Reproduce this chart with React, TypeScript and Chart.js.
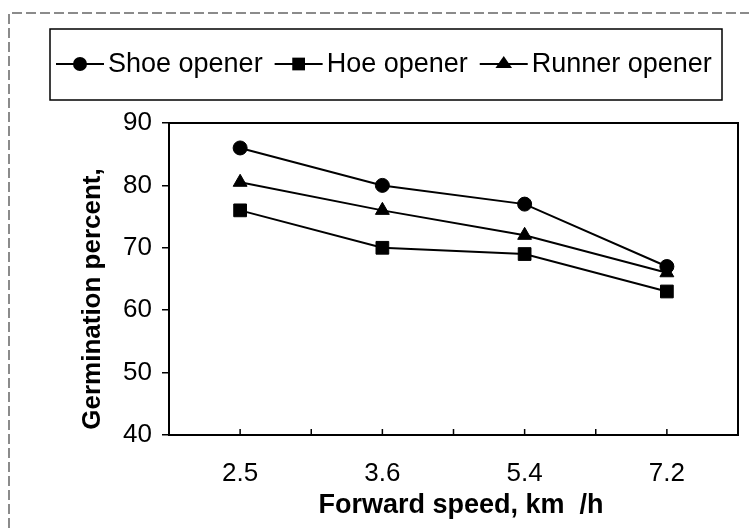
import React, { useEffect, useRef } from "react";
import { Chart, registerables } from "chart.js";

Chart.register(...registerables);

const categories = ["2.5", "3.6", "5.4", "7.2"];
const shoeOpener = [86, 80, 77, 67];
const hoeOpener = [76, 70, 69, 63];
const runnerOpener = [80.5, 76, 72, 66];
const seriesLabels = ["Shoe opener", "Hoe opener", "Runner opener"];
const pointStyles = ["circle", "rect", "triangle"];
const pointRadii = [7, 9, 8];
const yTitle = "Germination percent,";
const xTitle = "Forward speed, km  /h";

const FONT = "Arial, 'Liberation Sans', sans-serif";

function drawMarker(ctx: CanvasRenderingContext2D, style: string, r: number, x: number, y: number) {
  ctx.beginPath();
  if (style === "circle") {
    ctx.arc(x, y, r, 0, Math.PI * 2);
  } else if (style === "rect") {
    const s = r / Math.SQRT2;
    ctx.rect(x - s, y - s, 2 * s, 2 * s);
  } else {
    const h = r * 1.5;
    ctx.moveTo(x, y - h * 0.66);
    ctx.lineTo(x + r * 0.866 * 1.2, y + h * 0.34);
    ctx.lineTo(x - r * 0.866 * 1.2, y + h * 0.34);
    ctx.closePath();
  }
  ctx.fillStyle = "#000";
  ctx.fill();
}

const framePlugin = {
  id: "frame",
  beforeDraw(chart: any) {
    const { ctx, width, height } = chart;
    ctx.save();
    ctx.fillStyle = "#fff";
    ctx.fillRect(0, 0, width, height);
    ctx.strokeStyle = "#666";
    ctx.lineWidth = 1.5;
    ctx.setLineDash([10, 4]);
    ctx.beginPath();
    ctx.moveTo(9, height);
    ctx.lineTo(9, 13);
    ctx.lineTo(width, 13);
    ctx.stroke();
    ctx.restore();
  },
  beforeDatasetsDraw(chart: any) {
    const { ctx, chartArea: a } = chart;
    ctx.save();
    ctx.strokeStyle = "#000";
    ctx.lineWidth = 2;
    ctx.strokeRect(a.left, a.top, a.right - a.left, a.bottom - a.top);
    const xs = chart.scales.x;
    ctx.lineWidth = 1.5;
    ctx.beginPath();
    for (let i = 0; i < categories.length; i++) {
      for (const v of [i - 0.5, i]) {
        const px = xs.getPixelForValue(v);
        ctx.moveTo(px, a.bottom);
        ctx.lineTo(px, a.bottom - 6);
      }
    }
    ctx.stroke();
    ctx.restore();
  },
  afterDraw(chart: any) {
    const { ctx } = chart;
    ctx.save();
    // axis titles
    ctx.fillStyle = "#000";
    ctx.textAlign = "center";
    ctx.textBaseline = "middle";
    ctx.font = `bold 27px ${FONT}`;
    ctx.fillText(xTitle, 461, 506);
    ctx.save();
    ctx.translate(93, 299);
    ctx.rotate(-Math.PI / 2);
    ctx.font = `bold 26px ${FONT}`;
    ctx.fillText(yTitle, 0, 0);
    ctx.restore();

    // legend
    ctx.strokeStyle = "#000";
    ctx.lineWidth = 1.5;
    ctx.strokeRect(50, 29, 672, 71);
    ctx.font = `27px ${FONT}`;
    ctx.textAlign = "left";
    ctx.textBaseline = "middle";
    const cy = 64;
    let x = 56;
    chart.data.datasets.forEach((ds: any) => {
      ctx.strokeStyle = "#000";
      ctx.lineWidth = 2;
      ctx.beginPath();
      ctx.moveTo(x, cy);
      ctx.lineTo(x + 48, cy);
      ctx.stroke();
      drawMarker(ctx, ds.pointStyle, ds.pointRadius, x + 24, cy);
      ctx.fillStyle = "#000";
      ctx.fillText(ds.label, x + 52, cy + 1);
      x += 52 + ctx.measureText(ds.label).width + 12;
    });
    ctx.restore();
  },
};

export default function App() {
  const ref = useRef<HTMLCanvasElement>(null);
  useEffect(() => {
    document.body.style.margin = "0";
    const series = [shoeOpener, hoeOpener, runnerOpener];
    const chart = new Chart(ref.current!, {
      type: "line",
      data: {
        labels: categories,
        datasets: series.map((d, i) => ({
          label: seriesLabels[i],
          data: d,
          borderColor: "#000",
          backgroundColor: "#000",
          borderWidth: 2,
          pointStyle: pointStyles[i],
          pointRadius: pointRadii[i],
          pointBackgroundColor: "#000",
          pointBorderColor: "#000",
          pointBorderWidth: 1,
          tension: 0,
          fill: false,
        })),
      },
      options: {
        responsive: false,
        animation: false,
        devicePixelRatio: 1,
        events: [],
        layout: { padding: { left: 0, top: 123, right: 11, bottom: 0 } },
        plugins: {
          legend: { display: false },
          tooltip: { enabled: false },
        },
        scales: {
          x: {
            type: "category",
            offset: true,
            grid: { display: false },
            border: { display: false },
            ticks: {
              color: "#000",
              font: { family: FONT, size: 26 },
              padding: 15,
              maxRotation: 0,
            },
            afterFit(scale: any) {
              scale.height = 93;
            },
          },
          y: {
            min: 40,
            max: 90,
            ticks: {
              stepSize: 10,
              color: "#000",
              font: { family: FONT, size: 26 },
              padding: 10,
            },
            grid: {
              drawOnChartArea: false,
              tickLength: 7,
              color: "#000",
              lineWidth: 1.5,
            },
            border: { display: false },
            afterFit(scale: any) {
              scale.width = 169;
            },
          },
        },
      },
      plugins: [framePlugin],
    });
    return () => chart.destroy();
  }, []);
  return (
    <div style={{ width: 749, height: 528 }}>
      <canvas ref={ref} width={749} height={528} style={{ display: "block" }} />
    </div>
  );
}
